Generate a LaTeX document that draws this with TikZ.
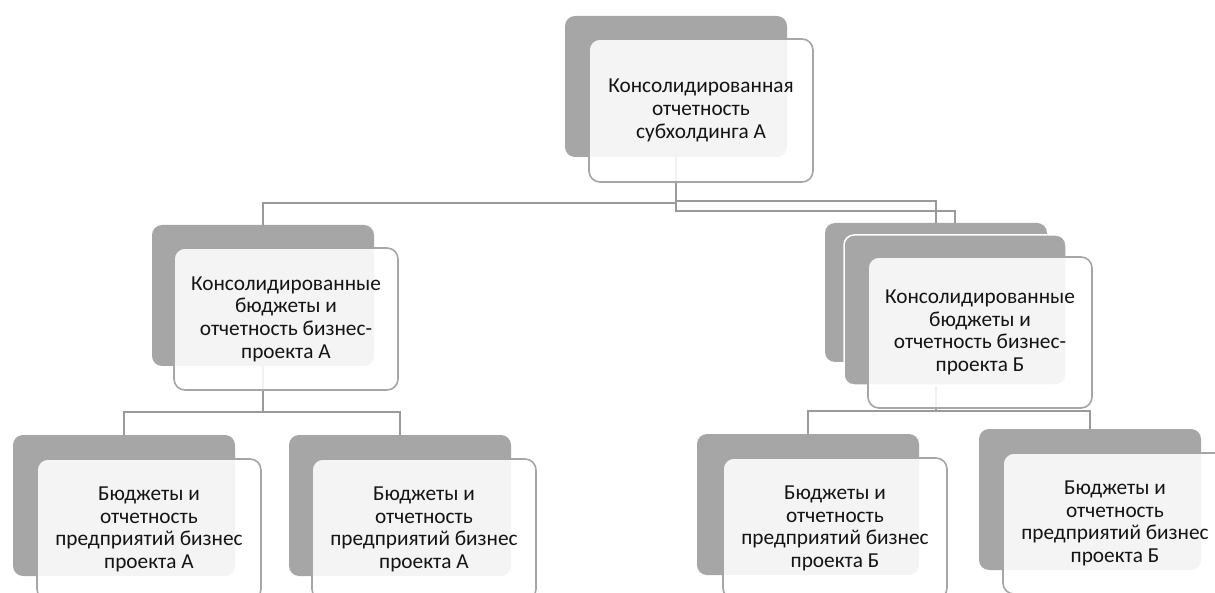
\documentclass[tikz,border=0pt]{standalone}
\usepackage{fontspec}
\setmainfont{Carlito}
\usetikzlibrary{backgrounds}
\definecolor{boxgray}{HTML}{A6A6A6}
\definecolor{linegray}{HTML}{9A9A9A}
\definecolor{txtcol}{HTML}{141414}
\begin{document}
\begin{tikzpicture}[x=1pt,y=-1pt,
  back/.style={draw=none, fill=boxgray, rounded corners=10pt, minimum width=222pt, minimum height=141pt, anchor=north west, inner sep=0pt, outer sep=0pt},
  backb/.style={back, draw=white, line width=1.5pt},
  front/.style={draw=boxgray, line width=1.6pt, fill=white, fill opacity=0.88, text opacity=1, rounded corners=11pt, minimum width=224pt, minimum height=141pt, anchor=north west, align=center, inner sep=0pt, outer sep=0pt, text=txtcol, font=\fontsize{21.3}{22.6}\selectfont},
  conn/.style={draw=linegray, line width=2.2pt}]
\useasboundingbox (0,0) rectangle (1215,593);
\clip (0,0) rectangle (1215,593);
% top
\node[back] (gT) at (565,16) {};
\node[front, minimum height=143pt] (T) at (589,39) {Консолидированная\\отчетность\\субхолдинга А};
% middle A
\node[back] (gA) at (152,225) {};
\node[front, minimum height=142pt] (A) at (174,248) {Консолидированные\\бюджеты и\\отчетность бизнес-\\проекта А};
% middle B stack
\node[back, minimum height=139pt] (gB1) at (825,223) {};
\node[backb, minimum height=150pt] (gB2) at (844,235) {};
\node[front, minimum height=151pt] (B) at (868,257) {Консолидированные\\бюджеты и\\отчетность бизнес-\\проекта Б};
% bottom
\node[back] (g1) at (13,435) {};
\node[front] (c1) at (37,459) {Бюджеты и\\отчетность\\предприятий бизнес\\проекта А};
\node[back] (g2) at (289,435) {};
\node[front] (c2) at (312,459) {Бюджеты и\\отчетность\\предприятий бизнес\\проекта А};
\node[back] (g3) at (697,434) {};
\node[front] (c3) at (723,458) {Бюджеты и\\отчетность\\предприятий бизнес\\проекта Б};
\node[back] (g4) at (979,429) {};
\node[front] (c4) at (1003,453) {Бюджеты и\\отчетность\\предприятий бизнес\\проекта Б};
% connectors
\coordinate (yL) at (0,203);
\coordinate (yR1) at (0,201);
\coordinate (yR2) at (0,211);
\coordinate (yA) at (0,412);
\coordinate (yB) at (0,411);
\begin{scope}[on background layer]
\fill[white] (0,0) rectangle (1215,593);
\draw[conn] (gT.south) -- (gT.south |- yL) -| (gA.north);
\draw[conn] (gT.south) -- (gT.south |- yR1) -| (gB1.north);
\draw[conn] (gT.south) -- (gT.south |- yR2) -| (gB2.north);
\draw[conn] (gA.south) -- (gA.south |- yA) -| (g1.north);
\draw[conn] (gA.south |- yA) -| (g2.north);
\draw[conn] (gB1.south) -- (gB1.south |- yB) -| (g3.north);
\draw[conn] (gB1.south |- yB) -| (g4.north);
\end{scope}
\end{tikzpicture}
\end{document}
